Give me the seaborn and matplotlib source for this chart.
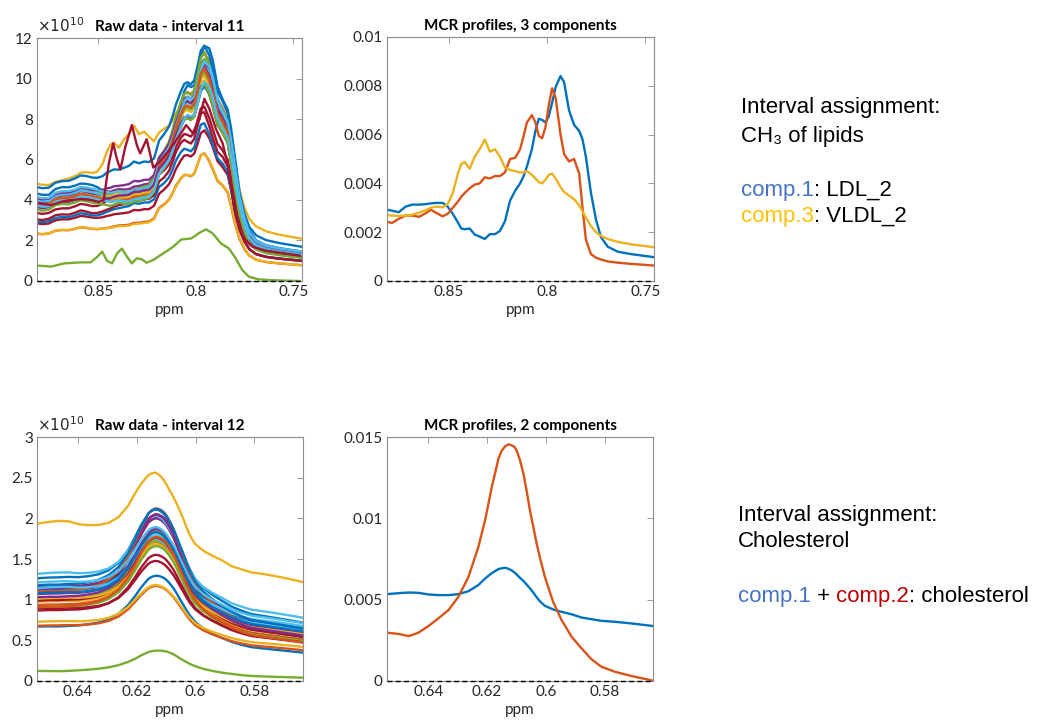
import numpy as np
import pandas as pd
import seaborn as sns
import matplotlib.pyplot as plt

# MATLAB default colour order
matlab_colors = ["#0072BD", "#D95319", "#EDB120", "#7E2F8E", "#77AC30", "#4DBEEE", "#A2142F"]

# ---------------------------------------------------------------------
# Interval 11 (CH3 of lipids): MCR profiles, values in units of 1e-3
# ---------------------------------------------------------------------
ppm_11 = [0.8820, 0.8789, 0.8755, 0.8720, 0.8686, 0.8652, 0.8617, 0.8592, 0.8566, 0.8532,
          0.8506, 0.8480, 0.8454, 0.8437, 0.8420, 0.8394, 0.8368, 0.8343, 0.8317, 0.8291,
          0.8265, 0.8240, 0.8214, 0.8188, 0.8162, 0.8137, 0.8119, 0.8102, 0.8077, 0.8059,
          0.8042, 0.8025, 0.8008, 0.7991, 0.7974, 0.7956, 0.7931, 0.7913, 0.7888, 0.7862,
          0.7836, 0.7819, 0.7802, 0.7776, 0.7750, 0.7725, 0.7690, 0.7639, 0.7570, 0.7450]
comp1_11 = [2.93, 2.88, 2.82, 3.05, 3.13, 3.13, 3.15, 3.18, 3.20, 3.20,
            3.05, 2.75, 2.40, 2.15, 2.12, 2.15, 1.90, 1.82, 1.72, 1.92,
            1.92, 2.05, 2.45, 3.30, 3.70, 4.00, 4.30, 4.70, 5.40, 6.15,
            6.65, 6.60, 6.50, 6.75, 7.30, 7.95, 8.40, 8.15, 7.00, 6.40,
            6.15, 5.80, 5.10, 3.60, 2.50, 1.80, 1.40, 1.20, 1.10, 0.97]
comp2_11 = [2.43, 2.38, 2.55, 2.68, 2.68, 2.63, 2.78, 2.92, 2.80, 2.65,
            2.75, 3.00, 3.25, 3.45, 3.60, 3.80, 3.95, 4.00, 4.25, 4.20,
            4.30, 4.30, 4.45, 5.00, 5.05, 5.40, 5.95, 6.50, 6.80, 6.50,
            5.95, 5.85, 6.30, 7.20, 7.90, 7.50, 6.00, 5.20, 4.90, 5.00,
            4.40, 3.00, 1.70, 1.10, 0.95, 0.88, 0.80, 0.75, 0.70, 0.63]
comp3_11 = [2.70, 2.68, 2.67, 2.68, 2.72, 2.80, 2.90, 3.00, 3.05, 3.02,
            3.15, 3.60, 4.40, 4.80, 4.88, 4.60, 5.10, 5.40, 5.80, 5.30,
            5.40, 5.10, 4.65, 4.55, 4.50, 4.45, 4.45, 4.50, 4.35, 4.20,
            4.05, 4.00, 4.15, 4.35, 4.40, 4.20, 3.85, 3.65, 3.50, 3.35,
            3.10, 2.85, 2.60, 2.25, 2.00, 1.85, 1.72, 1.60, 1.50, 1.38]

# MCR concentrations of each sample (raw spectrum = C x S, raw in units of 1e10)
conc1_11 = [1.05, 0.85, 0.55, 0.80, 0.90, 1.00, 0.50, 0.80, 0.40, 0.42, 0.75, 0.80, 0.85, 0.50,
            0.45, 0.80, 0.70, 0.75, 0.75, 0.90, 0.45, 0.70, 0.75, 0.70, 0.65, 0.70, 0.80]
conc2_11 = [0.35, 0.55, 0.15, 0.50, 0.45, 0.30, 0.35, 0.45, 0.35, 0.33, 0.55, 0.60, 0.40, 0.45,
            0.45, 0.45, 0.50, 0.45, 0.50, 0.35, 0.55, 0.40, 0.55, 0.45, 0.50, 0.50, 0.35]
conc3_11 = [0.15, 0.10, 1.05, 0.20, 0.10, 0.15, 0.20, 0.45, 0.12, 0.12, 0.15, 0.10, 0.20, 0.30,
            0.20, 0.15, 0.20, 0.30, 0.15, 0.25, 0.15, 0.25, 0.10, 0.20, 0.20, 0.10, 0.20]

ppm_green_11 = [0.8810, 0.8742, 0.8675, 0.8590, 0.8539, 0.8505, 0.8480, 0.8455, 0.8429, 0.8404,
                0.8379, 0.8353, 0.8328, 0.8302, 0.8277, 0.8252, 0.8218, 0.8167, 0.8116, 0.8074,
                0.8023, 0.7981, 0.7947, 0.7913, 0.7871, 0.7829, 0.7795, 0.7761, 0.7727, 0.7677,
                0.7592, 0.7465]
green_11 = [0.76, 0.71, 0.87, 0.92, 0.92, 1.20, 1.45, 0.99, 0.87, 1.36,
            1.60, 1.20, 0.87, 1.12, 1.07, 0.90, 1.04, 1.36, 1.69, 2.05,
            2.10, 2.38, 2.55, 2.35, 1.86, 1.60, 1.12, 0.54, 0.21, 0.08,
            0.03, 0.00]
ppm_bumpy_11 = [0.8810, 0.8742, 0.8675, 0.8590, 0.8539, 0.8497, 0.8472, 0.8446, 0.8424, 0.8404,
                0.8387, 0.8362, 0.8328, 0.8302, 0.8285, 0.8252, 0.8218, 0.8184, 0.8133, 0.8082,
                0.8049, 0.8015, 0.7981, 0.7956, 0.7930, 0.7896, 0.7862, 0.7829, 0.7795, 0.7761,
                0.7710, 0.7643, 0.7465]
bumpy_11 = [3.85, 3.75, 3.95, 4.05, 4.00, 3.90, 4.00, 5.80, 6.80, 6.00,
            5.50, 6.60, 7.70, 6.70, 6.30, 7.00, 5.60, 5.90, 6.50, 7.20,
            7.70, 7.30, 8.00, 9.00, 8.50, 7.50, 6.80, 5.50, 3.20, 2.20,
            1.70, 1.50, 1.25]

# ---------------------------------------------------------------------
# Interval 12 (cholesterol)
# ---------------------------------------------------------------------
ppm_12 = [0.6540, 0.6500, 0.6466, 0.6433, 0.6399, 0.6365, 0.6331, 0.6297, 0.6263, 0.6229,
          0.6218, 0.6206, 0.6195, 0.6184, 0.6172, 0.6161, 0.6150, 0.6138, 0.6127, 0.6116,
          0.6107, 0.6099, 0.6088, 0.6076, 0.6065, 0.6054, 0.6042, 0.6031, 0.6020, 0.6003,
          0.5975, 0.5946, 0.5912, 0.5878, 0.5844, 0.5811, 0.5765, 0.5709, 0.5635]
comp1_12 = [5.34, 5.40, 5.44, 5.42, 5.32, 5.28, 5.28, 5.34, 5.52, 5.90,
            6.10, 6.30, 6.47, 6.62, 6.76, 6.88, 6.93, 6.96, 6.90, 6.80,
            6.68, 6.55, 6.35, 6.15, 5.93, 5.70, 5.43, 5.15, 4.90, 4.62,
            4.40, 4.25, 4.10, 3.90, 3.80, 3.70, 3.64, 3.54, 3.38]
comp2_12 = [2.97, 2.89, 2.76, 2.97, 3.38, 3.85, 4.36, 5.18, 6.40, 8.25,
            9.05, 9.90, 10.90, 11.90, 12.80, 13.67, 14.15, 14.43, 14.55, 14.49,
            14.40, 14.18, 13.60, 12.75, 11.70, 10.50, 9.45, 8.45, 7.60, 6.40,
            4.87, 3.74, 2.72, 2.00, 1.33, 0.88, 0.57, 0.31, 0.02]
conc1_12 = [0.212, 0.176, 0.360, 0.190, 0.012, 0.230, 0.170, 0.103, 0.112, 0.124,
            0.180, 0.165, 0.185, 0.150, 0.195, 0.170, 0.160, 0.175, 0.160, 0.200,
            0.160, 0.190, 0.150, 0.170, 0.165, 0.145, 0.210, 0.140, 0.180, 0.140]
conc2_12 = [0.044, 0.054, 0.004, 0.047, 0.020, 0.030, 0.060, 0.040, 0.027, 0.022,
            0.055, 0.040, 0.035, 0.030, 0.033, 0.065, 0.040, 0.045, 0.050, 0.025,
            0.045, 0.055, 0.045, 0.035, 0.050, 0.045, 0.030, 0.040, 0.040, 0.055]

# ---------------------------------------------------------------------
# Style
# ---------------------------------------------------------------------
sns.set_theme(style="white")
plt.rcParams["font.family"] = ["Lato", "DejaVu Sans"]
tick_gray = "#8c8c8c"
text_col = "#262626"


def build_raw(ppm, profiles, concs):
    rows = []
    prof = np.array(profiles)
    for i, c in enumerate(np.array(concs).T):
        spec = c @ prof
        rows.append(pd.DataFrame({"sample": f"s{i:02d}", "ppm": ppm, "value": spec}))
    return pd.concat(rows, ignore_index=True)


def style_axes(ax, xlim, xticks, xlabels, ylim, yticks, ylabels, title):
    ax.set_xlim(*xlim)
    ax.set_ylim(*ylim)
    ax.set_xticks(xticks)
    ax.set_xticklabels(xlabels)
    ax.set_yticks(yticks)
    ax.set_yticklabels(ylabels)
    ax.tick_params(direction="in", top=True, right=True, length=4, width=0.6,
                   color=tick_gray, labelcolor=text_col, labelsize=11, pad=3)
    for sp in ax.spines.values():
        sp.set_color(tick_gray)
        sp.set_linewidth(0.8)
    ax.set_xlabel("ppm", fontsize=11, color=text_col, labelpad=3)
    ax.set_ylabel("")
    ax.set_title(title, fontsize=11, fontweight="bold", color="black", pad=5)
    ax.axhline(0, color="black", ls=(0, (3.5, 2.5)), lw=1.0, zorder=5, clip_on=False)


fig = plt.figure(figsize=(10.56, 7.24), dpi=100)
ax_tl = fig.add_axes([0.0350, 0.6119, 0.2509, 0.3356])
ax_tr = fig.add_axes([0.3665, 0.6119, 0.2528, 0.3370])
ax_bl = fig.add_axes([0.0350, 0.0594, 0.2519, 0.3370])
ax_br = fig.add_axes([0.3665, 0.0594, 0.2519, 0.3370])

lw = 1.7

# --- raw data, interval 11 ---
raw11 = build_raw(ppm_11, [comp1_11, comp2_11, comp3_11], [conc1_11, conc2_11, conc3_11])
pal11 = [matlab_colors[i % 7] for i in range(len(conc1_11))]
sns.lineplot(data=raw11, x="ppm", y="value", hue="sample", palette=pal11,
             estimator=None, legend=False, linewidth=lw, ax=ax_tl)
sns.lineplot(x=ppm_green_11, y=green_11, color=matlab_colors[4], linewidth=lw,
             estimator=None, ax=ax_tl)
sns.lineplot(x=ppm_bumpy_11, y=bumpy_11, color=matlab_colors[6], linewidth=lw,
             estimator=None, ax=ax_tl)
style_axes(ax_tl, (0.8815, 0.7455), [0.85, 0.8, 0.75], ["0.85", "0.8", "0.75"],
           (0, 12), [0, 2, 4, 6, 8, 10, 12], ["0", "2", "4", "6", "8", "10", "12"],
           "Raw data - interval 11")
ax_tl.text(0.0, 1.012, r"$\times10^{10}$", transform=ax_tl.transAxes, ha="left",
           va="bottom", fontsize=11, color=text_col)

# --- MCR profiles, interval 11 ---
mcr11 = pd.DataFrame({
    "ppm": ppm_11 * 3,
    "value": np.concatenate([comp1_11, comp2_11, comp3_11]) * 1e-3,
    "component": ["comp.1"] * len(ppm_11) + ["comp.2"] * len(ppm_11) + ["comp.3"] * len(ppm_11),
})
sns.lineplot(data=mcr11, x="ppm", y="value", hue="component", palette=matlab_colors[:3],
             estimator=None, legend=False, linewidth=lw, ax=ax_tr)
style_axes(ax_tr, (0.8815, 0.7455), [0.85, 0.8, 0.75], ["0.85", "0.8", "0.75"],
           (0, 0.01), [0, 0.002, 0.004, 0.006, 0.008, 0.01],
           ["0", "0.002", "0.004", "0.006", "0.008", "0.01"],
           "MCR profiles, 3 components")

# --- raw data, interval 12 ---
raw12 = build_raw(ppm_12, [comp1_12, comp2_12], [conc1_12, conc2_12])
pal12 = [matlab_colors[i % 7] for i in range(len(conc1_12))]
sns.lineplot(data=raw12, x="ppm", y="value", hue="sample", palette=pal12,
             estimator=None, legend=False, linewidth=lw, ax=ax_bl)
style_axes(ax_bl, (0.654, 0.5635), [0.64, 0.62, 0.6, 0.58], ["0.64", "0.62", "0.6", "0.58"],
           (0, 3), [0, 0.5, 1, 1.5, 2, 2.5, 3], ["0", "0.5", "1", "1.5", "2", "2.5", "3"],
           "Raw data - interval 12")
ax_bl.text(0.0, 1.012, r"$\times10^{10}$", transform=ax_bl.transAxes, ha="left",
           va="bottom", fontsize=11, color=text_col)

# --- MCR profiles, interval 12 ---
mcr12 = pd.DataFrame({
    "ppm": ppm_12 * 2,
    "value": np.concatenate([comp1_12, comp2_12]) * 1e-3,
    "component": ["comp.1"] * len(ppm_12) + ["comp.2"] * len(ppm_12),
})
sns.lineplot(data=mcr12, x="ppm", y="value", hue="component", palette=matlab_colors[:2],
             estimator=None, legend=False, linewidth=lw, ax=ax_br)
style_axes(ax_br, (0.654, 0.5635), [0.64, 0.62, 0.6, 0.58], ["0.64", "0.62", "0.6", "0.58"],
           (0, 0.015), [0, 0.005, 0.01, 0.015], ["0", "0.005", "0.01", "0.015"],
           "MCR profiles, 2 components")

# ---------------------------------------------------------------------
# Interval assignment notes (multi-coloured lines)
# ---------------------------------------------------------------------
note_font = ["Liberation Sans", "DejaVu Sans"]
renderer = fig.canvas.get_renderer()


def colored_line(x, y, parts, size=16):
    for s, c in parts:
        t = fig.text(x, y, s, color=c, fontsize=size, family=note_font, ha="left", va="baseline")
        x += t.get_window_extent(renderer).width / fig.bbox.width


blue_txt = "#4472C4"
gold_txt = "#FFC000"
red_txt = "#C00000"

colored_line(0.7017, 0.8439, [("Interval assignment:", "black")])
colored_line(0.7017, 0.8039, [("CH₃ of lipids", "black")])
colored_line(0.7017, 0.7293, [("comp.1", blue_txt), (": LDL_2", "black")])
colored_line(0.7017, 0.6934, [("comp.3", gold_txt), (": VLDL_2", "black")])

colored_line(0.6989, 0.2804, [("Interval assignment:", "black")])
colored_line(0.6989, 0.2445, [("Cholesterol", "black")])
colored_line(0.6989, 0.1685, [("comp.1", blue_txt), (" + ", "black"), ("comp.2", red_txt),
                              (": cholesterol", "black")])

fig.savefig("out.png", dpi=100)
